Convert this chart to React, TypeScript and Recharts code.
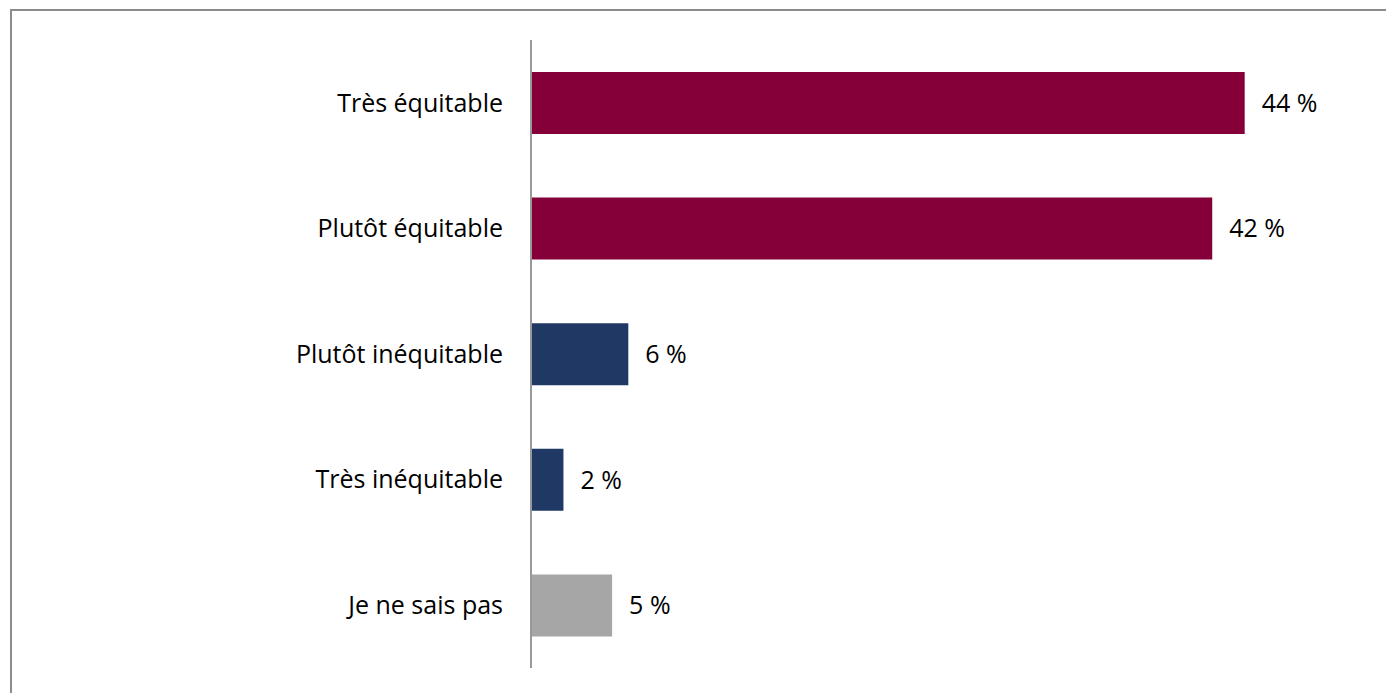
import React from 'react';
import { BarChart, Bar, XAxis, YAxis, Cell, LabelList } from 'recharts';

const categories = ['Très équitable', 'Plutôt équitable', 'Plutôt inéquitable', 'Très inéquitable', 'Je ne sais pas'];
const values = [44, 42, 6, 2, 5];
const colors = ['#850038', '#850038', '#1F3864', '#1F3864', '#A6A6A6'];

const data = categories.map((name, i) => ({ name, value: values[i] }));

const FONT = '"Open Sans", sans-serif';

const App: React.FC = () => {
    return (
        <div style={{
            position: 'absolute',
            left: 0,
            top: 0,
            width: 1386,
            height: 693,
            overflow: 'hidden',
            background: '#fff'
        }}>
            {/* frame line, only top and left visible */}
            <div style={{
                position: 'absolute',
                left: 10,
                top: 9,
                width: 1400,
                height: 700,
                borderTop: '2px solid #8c8c8c',
                borderLeft: '2px solid #8c8c8c'
            }} />
            <div style={{ position: 'absolute', left: 0, top: 0 }}>
                <BarChart
                    width={1386}
                    height={693}
                    data={data}
                    layout="vertical"
                    margin={{ top: 40, right: 44, bottom: 25, left: 0 }}
                    barCategoryGap="25%"
                >
                    <XAxis type="number" domain={[0, 50]} hide />
                    <YAxis
                        type="category"
                        dataKey="name"
                        width={531}
                        axisLine={{ stroke: '#999', strokeWidth: 2 }}
                        tickLine={false}
                        tickSize={0}
                        tickMargin={28}
                        tick={{ fill: '#000', fontSize: 25, fontFamily: FONT }}
                    />
                    <Bar dataKey="value" barSize={62} isAnimationActive={false}>
                        {data.map((entry, index) => (
                            <Cell key={`cell-${index}`} fill={colors[index]} />
                        ))}
                        <LabelList
                            dataKey="value"
                            position="right"
                            offset={17}
                            formatter={(v: any) => `${v} %`}
                            style={{ fill: '#000', fontSize: 25, fontFamily: FONT }}
                        />
                    </Bar>
                </BarChart>
            </div>
        </div>
    );
};

export default App;
